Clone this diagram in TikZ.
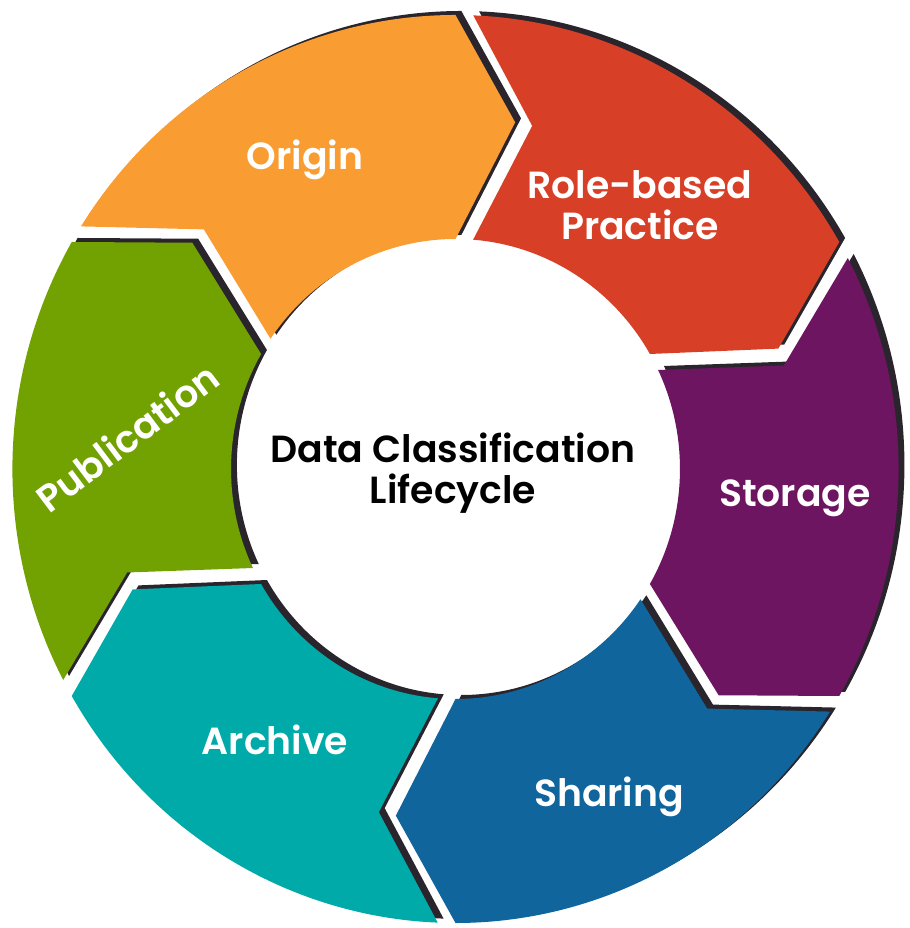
\documentclass[tikz,border=0pt]{standalone}
\usepackage{fontspec}
\setmainfont{Poppins}
\newfontfamily\labelfont{Poppins}[UprightFont=* SemiBold]

% segment colours
\definecolor{origincol}{HTML}{F99D32}
\definecolor{rolecol}{HTML}{D74026}
\definecolor{storagecol}{HTML}{6D1560}
\definecolor{sharingcol}{HTML}{0F659C}
\definecolor{archivecol}{HTML}{00AAA9}
\definecolor{publicationcol}{HTML}{72A201}
\definecolor{shadowcol}{HTML}{2A252C}

\begin{document}
\begin{tikzpicture}[x=0.02cm, y=0.02cm,
  seglabel/.style={text=white, font=\labelfont\fontsize{21.5}{23.5}\selectfont, align=center},
  titlelabel/.style={text=black, font=\labelfont\fontsize{21.5}{23.5}\selectfont, align=center}]
  \useasboundingbox (-455.5,-459) rectangle (453.5,469);

  \begin{scope}[xscale=0.976]
    % Shadows, shifted up and right
    \foreach \a in {150,90,30,-30,-90,-150}
      \fill[shadowcol, shift={(6,4)}]
        ({\a-2.3}:454) arc[start angle={\a-2.3}, end angle={\a-60}, radius=454]
        -- ({\a-70}:352) -- ({\a-60}:230)
        arc[start angle={\a-60}, end angle={\a-4.5}, radius=230]
        -- ({\a-12.9}:352) -- cycle;
    % Arrow segments, clockwise from Origin
    \foreach \a/\c in {150/origincol,90/rolecol,30/storagecol,-30/sharingcol,-90/archivecol,-150/publicationcol}
      \fill[\c]
        ({\a-2.3}:454) arc[start angle={\a-2.3}, end angle={\a-60}, radius=454]
        -- ({\a-70}:352) -- ({\a-60}:230)
        arc[start angle={\a-60}, end angle={\a-4.5}, radius=230]
        -- ({\a-12.9}:352) -- cycle;
  \end{scope}

  % Labels
  \node[seglabel] (origin) at (-150.5,309) {Origin};
  \node[seglabel] (role) at (184.5,264) {Role-based\\Practice};
  \node[seglabel] (storage) at (339.5,-29) {Storage};
  \node[seglabel] (sharing) at (153.5,-328) {Sharing};
  \node[seglabel] (archive) at (-180.5,-271) {Archive};
  \node[seglabel, rotate=37] (publication) at (-328.5,32) {Publication};
  % Centre
  \node[titlelabel] (title) at (-2.5,-4) {Data Classification\\Lifecycle};
\end{tikzpicture}
\end{document}
